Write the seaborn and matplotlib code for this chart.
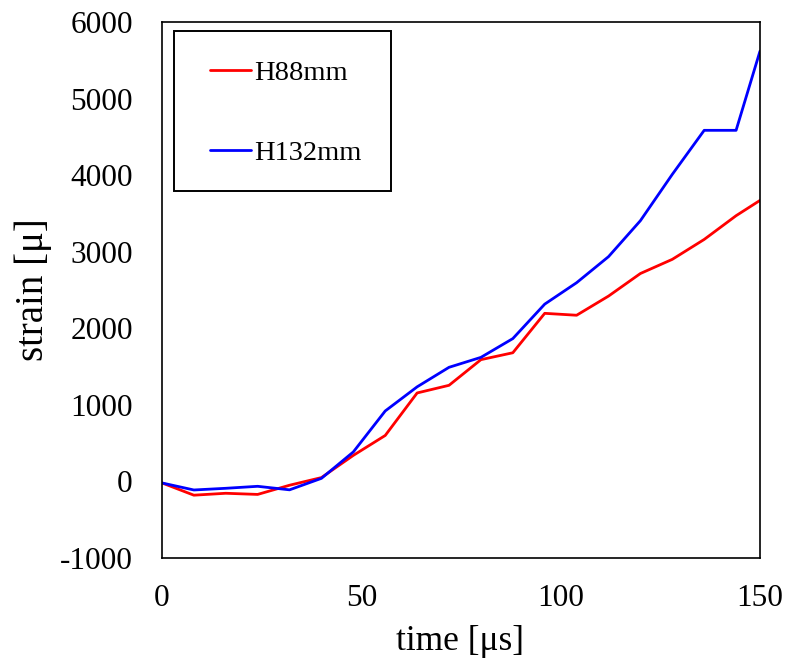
import matplotlib
matplotlib.use("Agg")
import matplotlib.pyplot as plt
from matplotlib.patches import Rectangle
import seaborn as sns
import pandas as pd

time_us = [0, 8, 16, 24, 32, 40, 48, 56, 64, 72, 80, 88, 96, 104, 112, 120, 128, 136, 144, 150]
h88 = [-20, -180, -155, -170, -50, 50, 340, 600, 1155, 1255, 1590, 1680, 2195, 2170, 2420, 2715, 2900, 3160, 3470, 3670]
h132 = [-20, -112, -90, -64, -110, 40, 385, 920, 1235, 1490, 1620, 1865, 2315, 2595, 2935, 3405, 4010, 4585, 4585, 5620]
series_names = ["H88mm", "H132mm"]
colors = ["#ff0000", "#0000ff"]
xticks = [0, 50, 100, 150]
yticks = [-1000, 0, 1000, 2000, 3000, 4000, 5000, 6000]

df = pd.DataFrame({
    "time": time_us * 2,
    "strain": h88 + h132,
    "series": [series_names[0]] * len(time_us) + [series_names[1]] * len(time_us),
})

sns.set_theme(style="white")
plt.rcParams["font.family"] = ["Liberation Serif", "DejaVu Serif"]
plt.rcParams["axes.unicode_minus"] = False

fig = plt.figure(figsize=(7.87, 6.66), dpi=100)
ax = fig.add_axes([0.2058, 0.1622, 0.7599, 0.8048])

sns.lineplot(data=df, x="time", y="strain", hue="series", palette=colors,
             hue_order=series_names, linewidth=2.0, ax=ax, legend=True)

ax.set_xlim(0, 150)
ax.set_ylim(-1000, 6000)
ax.set_xticks(xticks)
ax.set_yticks(yticks)
ax.tick_params(axis="both", labelsize=22.5, length=0, colors="black")
ax.tick_params(axis="x", pad=19)
ax.tick_params(axis="y", pad=21)
ax.set_xlabel("time [μs]", fontsize=25.5, color="black")
ax.set_ylabel("strain [μ]", fontsize=28, color="black")
ax.xaxis.set_label_coords(0.499, -0.125)
ax.yaxis.set_label_coords(-0.184, 0.5)

for s in ax.spines.values():
    s.set_visible(True)
    s.set_color("black")
    s.set_linewidth(1.2)

# legend box
ax.add_patch(Rectangle((0.0201, 0.6847), 0.3629, 0.2985, transform=ax.transAxes,
                       facecolor="white", edgecolor="black", linewidth=1.4, zorder=4))

handles, labels = ax.get_legend_handles_labels()
leg = ax.legend(handles, labels, loc="upper left", bbox_to_anchor=(0.0803, 0.929),
                fontsize=20.5, frameon=False,
                handlelength=1.44, handletextpad=0.1, labelspacing=1.9,
                borderpad=0, borderaxespad=0)
leg.set_zorder(5)
for t in leg.get_texts():
    t.set_color("black")

fig.savefig("out.png", dpi=100)
